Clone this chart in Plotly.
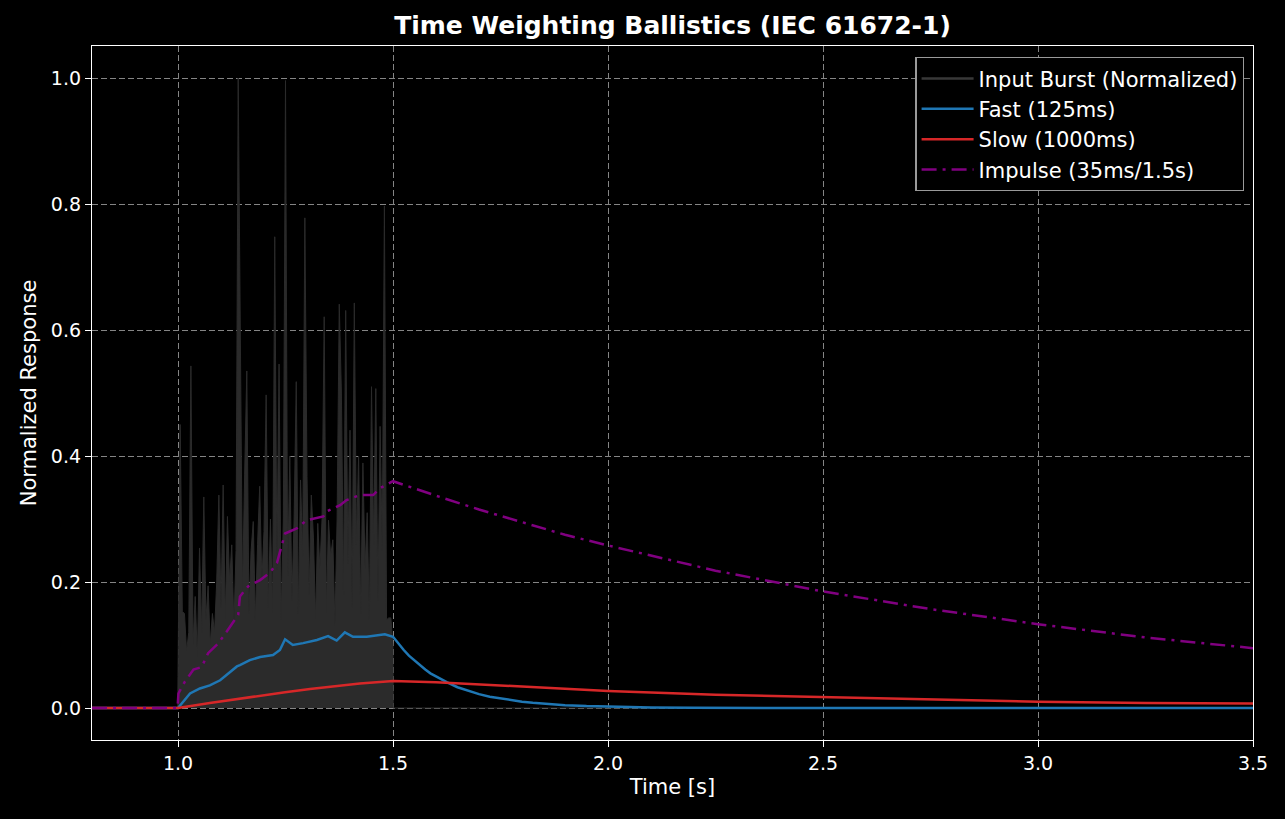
import numpy as np
import plotly.graph_objects as go

# ---------------- data ----------------
# Input burst: local peak level every 5 ms from 1.000 s to 1.500 s
burst_start = 1.0
burst_step = 0.005
input_burst = [
    0.05, 0.45, 0.153, 0.15, 0.09, 0.12, 0.543, 0.10, 0.177, 0.08,
    0.254, 0.12, 0.335, 0.14, 0.194, 0.10, 0.15, 0.12, 0.20, 0.338,
    0.16, 0.354, 0.14, 0.304, 0.20, 0.259, 0.13, 0.25, 1.0, 0.538,
    0.18, 0.37, 0.535, 0.15, 0.25, 0.296, 0.14, 0.259, 0.352, 0.20,
    0.28, 0.497, 0.16, 0.30, 0.15, 0.748, 0.22, 0.546, 0.14, 0.30,
    0.996, 0.21, 0.40, 0.17, 0.30, 0.518, 0.15, 0.362, 0.24, 0.778,
    0.367, 0.18, 0.338, 0.27, 0.14, 0.293, 0.22, 0.30, 0.621, 0.15,
    0.298, 0.24, 0.267, 0.13, 0.30, 0.641, 0.50, 0.18, 0.631, 0.23,
    0.441, 0.16, 0.643, 0.26, 0.40, 0.15, 0.389, 0.22, 0.31, 0.14,
    0.51, 0.26, 0.507, 0.17, 0.447, 0.25, 0.797, 0.14, 0.143, 0.143,
    0.10,
]

fast_t = [0.8, 1.0, 1.028, 1.051, 1.074, 1.098, 1.137, 1.144, 1.167, 1.191,
          1.221, 1.237, 1.249, 1.267, 1.291, 1.323, 1.349, 1.369, 1.388,
          1.407, 1.439, 1.47, 1.481, 1.5, 1.512, 1.525, 1.537, 1.55, 1.562,
          1.575, 1.587, 1.6, 1.612, 1.625, 1.65, 1.675, 1.7, 1.725, 1.75,
          1.775, 1.8, 1.825, 1.85, 1.875, 1.9, 1.95, 2.0, 2.1, 2.2, 2.35,
          2.5, 3.0, 3.5]
fast_v = [0.0, 0.0, 0.023, 0.031, 0.036, 0.044, 0.066, 0.068, 0.076, 0.081,
          0.084, 0.092, 0.109, 0.100, 0.103, 0.108, 0.114, 0.107, 0.120,
          0.113, 0.113, 0.116, 0.117, 0.113, 0.102, 0.092, 0.083, 0.075, 0.068,
          0.061, 0.055, 0.050, 0.045, 0.041, 0.033, 0.027, 0.022, 0.018, 0.015,
          0.012, 0.010, 0.0082, 0.0067, 0.0055, 0.0045, 0.003, 0.002, 0.0009, 0.0004, 0.0001,
          0.0, 0.0, 0.0]

slow_t = [0.8, 1.0, 1.074, 1.144, 1.191, 1.249, 1.307, 1.365, 1.423, 1.5,
          1.6, 1.8, 2.0, 2.25, 2.5, 2.75, 3.0, 3.25, 3.5]
slow_v = [0.0, 0.0, 0.008, 0.015, 0.019, 0.025, 0.030, 0.035, 0.039, 0.043,
          0.041, 0.034, 0.027, 0.021, 0.017, 0.013, 0.010, 0.008, 0.007]

imp_t = [0.8, 0.999, 1.001, 1.016, 1.036, 1.055, 1.07, 1.094, 1.113, 1.14,
         1.144, 1.163, 1.191, 1.214, 1.23, 1.249, 1.276, 1.299, 1.338, 1.346,
         1.377, 1.392, 1.423, 1.454, 1.47, 1.5, 1.6, 1.7, 1.8, 1.9, 2.0,
         2.25, 2.5, 2.75, 3.0, 3.25, 3.5]
imp_v = [0.0, 0.0, 0.023, 0.042, 0.061, 0.065, 0.087, 0.103, 0.121, 0.148,
         0.177, 0.193, 0.203, 0.215, 0.230, 0.277, 0.285, 0.298, 0.304, 0.312,
         0.322, 0.330, 0.338, 0.338, 0.349, 0.360, 0.337, 0.315, 0.295, 0.275, 0.258,
         0.218, 0.185, 0.157, 0.133, 0.112, 0.095]

x_ticks = [1.0, 1.5, 2.0, 2.5, 3.0, 3.5]
y_ticks = [0.0, 0.2, 0.4, 0.6, 0.8, 1.0]

# ---------------- build ----------------
burst_t = burst_start + burst_step * np.arange(len(input_burst))
in_t = [0.8, 0.9995] + list(burst_t) + [1.5005, 3.5]
in_v = [0.0, 0.0] + list(input_burst) + [0.0, 0.0]

IN_COL = "#2b2b2b"
FONT = "DejaVu Sans"

fig = go.Figure()
fig.add_trace(go.Scatter(x=in_t, y=in_v, mode="lines", line=dict(color=IN_COL, width=1),
                         fill="tozeroy", fillcolor=IN_COL, showlegend=False, hoverinfo="skip"))
fig.add_trace(go.Scatter(x=[None], y=[None], mode="lines", line=dict(color="#383838", width=2.5),
                         name="Input Burst (Normalized)", legendgroup="a"))
fig.add_trace(go.Scatter(x=fast_t, y=fast_v, mode="lines", line=dict(color="#1f77b4", width=2.5),
                         name="Fast (125ms)", legendgroup="b"))
fig.add_trace(go.Scatter(x=slow_t, y=slow_v, mode="lines", line=dict(color="#d62728", width=2.5),
                         name="Slow (1000ms)", legendgroup="c"))
fig.add_trace(go.Scatter(x=imp_t, y=imp_v, mode="lines",
                         line=dict(color="#800080", width=2.5, dash="15px,6px,3px,6px"),
                         name="Impulse (35ms/1.5s)", legendgroup="d"))

axis_common = dict(
    showline=True, linecolor="white", linewidth=1.3, mirror=True,
    ticks="outside", ticklen=6, tickwidth=1.3, tickcolor="white",
    showgrid=True, gridcolor="#858585", gridwidth=1, griddash="6px,3px",
    zeroline=False, tickfont=dict(family=FONT, size=19, color="white"),
)

fig.update_layout(
    width=1285, height=819,
    paper_bgcolor="black", plot_bgcolor="black",
    margin=dict(l=92, r=32, t=46, b=79),
    title=dict(text="<b>Time Weighting Ballistics (IEC 61672-1)</b>", x=0.5, xref="paper",
               xanchor="center", y=0.969, yanchor="middle",
               font=dict(family=FONT, size=25, color="white")),
    xaxis=dict(range=[0.8, 3.5], tickvals=x_ticks, ticktext=[f"{v:.1f}" for v in x_ticks],
               title=dict(text="Time [s]", font=dict(family=FONT, size=21, color="white"), standoff=6),
               **axis_common),
    yaxis=dict(range=[-0.0508, 1.0508], tickvals=y_ticks, ticktext=[f"{v:.1f}" for v in y_ticks],
               title=dict(text="Normalized Response", font=dict(family=FONT, size=21, color="white"), standoff=8),
               **axis_common),
    legend=dict(x=0.9925, y=0.984, xanchor="right", yanchor="top",
                bgcolor="black", bordercolor="#9a9a9a", borderwidth=1.3,
                font=dict(family=FONT, size=21, color="white"),
                tracegroupgap=0, itemwidth=52),
    showlegend=True,
)

fig.write_html("out.html")
